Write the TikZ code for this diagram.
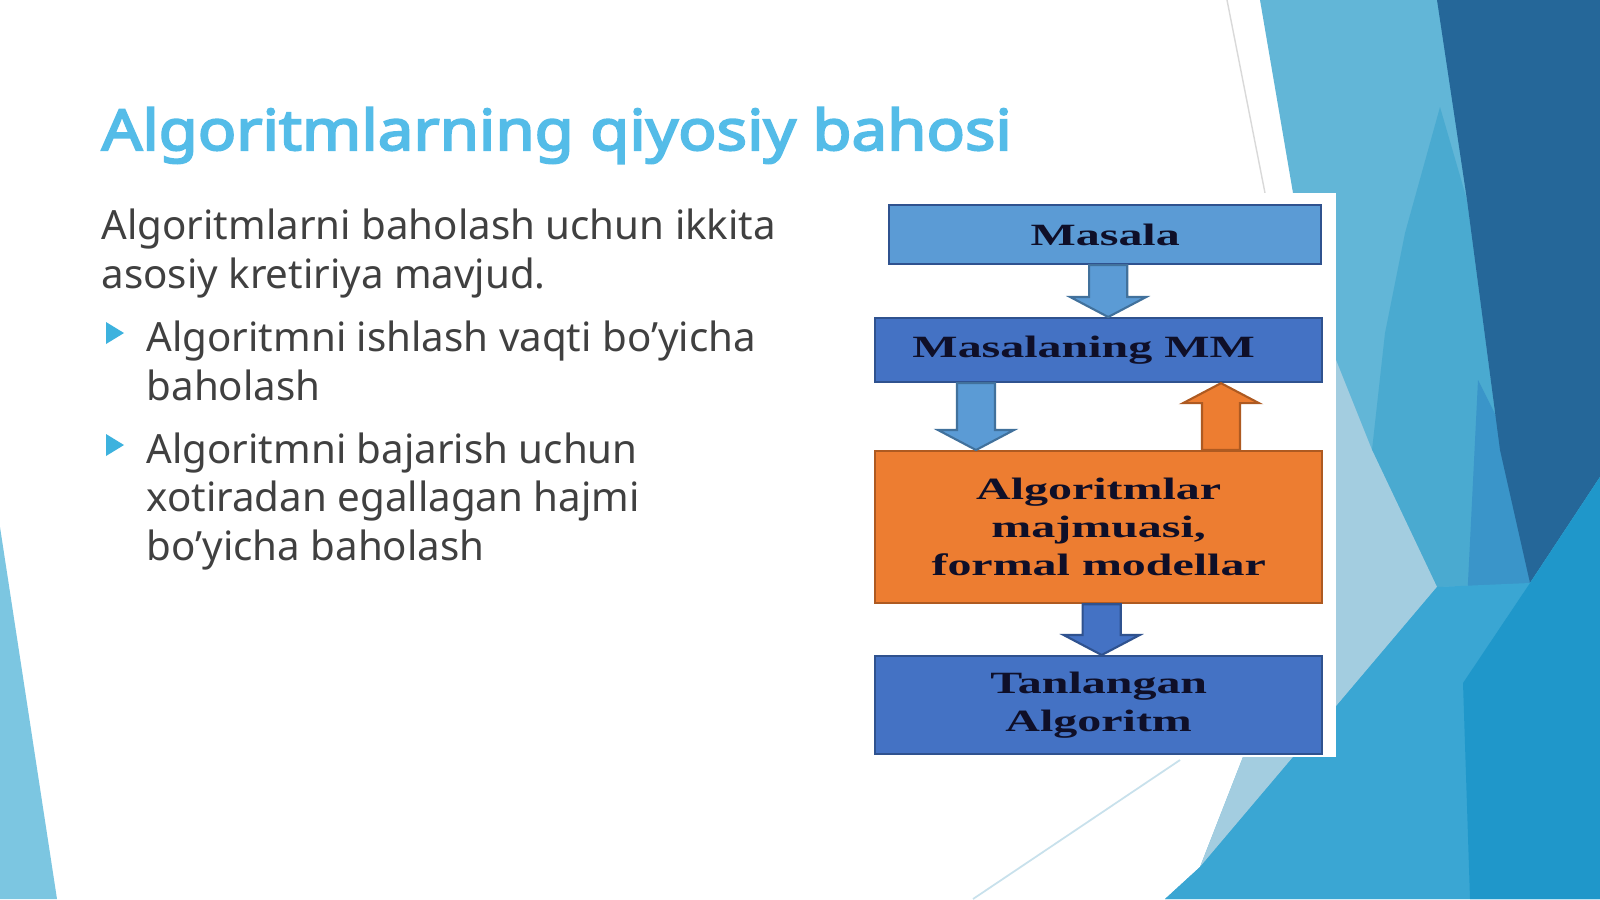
\documentclass[tikz,border=0pt]{standalone}
\usepackage{fontspec}
\setmainfont{Noto Sans}
\newfontfamily\titlefont[FakeBold=3.5, FakeStretch=1.13]{Noto Sans}
\newfontfamily\boxfont[FakeStretch=1.55]{Liberation Serif}
\usetikzlibrary{calc,positioning}
\definecolor{titleblue}{RGB}{84,188,232}
\definecolor{bodygray}{RGB}{64,64,64}
\definecolor{bulletblue}{RGB}{61,178,222}
\definecolor{boxtext}{RGB}{15,15,40}
\definecolor{lightfill}{RGB}{91,155,213}
\definecolor{lightedge}{RGB}{65,113,156}
\definecolor{darkfill}{RGB}{68,114,196}
\definecolor{darkedge}{RGB}{47,82,143}
\definecolor{orangefill}{RGB}{237,125,49}
\definecolor{orangeedge}{RGB}{174,90,33}
\definecolor{bglight}{RGB}{98,182,215}
\definecolor{bgmedium}{RGB}{74,170,208}
\definecolor{bgdark}{RGB}{37,103,153}
\definecolor{bgstreak}{RGB}{58,149,201}
\definecolor{bgpale}{RGB}{163,205,224}
\definecolor{bgbottom}{RGB}{58,166,211}
\definecolor{bgdeep}{RGB}{31,151,202}
\definecolor{bgleft}{RGB}{124,198,225}

% freccia a blocco verticale: stile, partenza, punta
\newcommand{\blockarrow}[3]{%
  \draw[#1] let \p1=(#2), \p2=(#3), \n1={sign(\y2-\y1)} in
    (\x1-0.19cm,\y1) -- (\x1-0.19cm,{\y2-(\n1)*0.2cm}) -- (\x1-0.38cm,{\y2-(\n1)*0.2cm})
    -- (\x1,\y2) -- (\x1+0.38cm,{\y2-(\n1)*0.2cm}) -- (\x1+0.19cm,{\y2-(\n1)*0.2cm})
    -- (\x1+0.19cm,\y1) -- cycle;}

\begin{document}
\begin{tikzpicture}[x=0.01cm, y=-0.01cm,
  boxbase/.style={draw, line width=0.6pt, inner sep=0pt, anchor=north west, align=center,
    text=boxtext, font=\boxfont\bfseries\fontsize{8.8}{10.8}\selectfont},
  boxlight/.style={boxbase, fill=lightfill, draw=darkedge},
  boxdark/.style={boxbase, fill=darkfill, draw=darkedge},
  boxorange/.style={boxbase, fill=orangefill, draw=orangeedge},
  arrowlight/.style={fill=lightfill, draw=lightedge, line width=0.6pt},
  arrowdark/.style={fill=darkfill, draw=darkedge, line width=0.6pt},
  arroworange/.style={fill=orangefill, draw=orangeedge, line width=0.6pt},
  bodytext/.style={anchor=base west, align=left, text=bodygray, inner sep=0pt,
    font=\fontsize{11.45}{13.66}\selectfont}]
\useasboundingbox (0,0) rectangle (1600,899);
\fill[white] (0,0) rectangle (1600,899);

% Sfondo a destra
\fill[bglight] (1260,0) -- (1600,0) -- (1600,899) -- (1165,899) -- (1200,867) -- (1243,757)
  -- (1336,560) -- (1336,193) -- (1293,193) -- cycle;
\fill[bgmedium] (1440,107) -- (1467,200) -- (1500,450) -- (1530,583) -- (1437,587)
  -- (1372,450) -- (1385,333) -- (1405,233) -- cycle;
\fill[bgstreak] (1478,380) -- (1503,430) -- (1530,583) -- (1463,683) -- cycle;
\fill[bgdark] (1437,0) -- (1600,0) -- (1600,477) -- (1530,583) -- (1500,450) -- (1467,200) -- cycle;
\fill[bgpale] (1336,360) -- (1372,450) -- (1437,587) -- (1200,867) -- (1243,757) -- (1300,560) -- cycle;
\fill[bgbottom] (1165,899) -- (1200,867) -- (1437,587) -- (1530,583) -- (1600,477) -- (1600,899) -- cycle;
\fill[bgdeep] (1470,899) -- (1463,683) -- (1530,583) -- (1600,477) -- (1600,899) -- cycle;
\draw[gray!30, line width=0.4pt] (1227,0) -- (1265,193);
\draw[bgpale!60, line width=0.5pt] (1180,760) -- (973,899);

% Triangolo in basso a sinistra
\fill[bgleft] (0,527) -- (57,899) -- (0,899) -- cycle;

% Titolo e testo
\node[anchor=base west, inner sep=0pt, text=titleblue, font=\titlefont\fontsize{16}{19}\selectfont]
  (title) at (101,150) {Algoritmlarning qiyosiy bahosi};
\node[bodytext] (intro) at (101,288) {Algoritmlarni baholash uchun ikkita\\asosiy kretiriya mavjud.};
\node[bodytext] (itemtime) at (146,400) {Algoritmni ishlash vaqti bo’yicha\\baholash};
\node[bodytext] (itemmem) at (146,560) {Algoritmni bajarish uchun\\xotiradan egallagan hajmi\\bo’yicha baholash};
\foreach \y in {352,464}{
  \fill[bulletblue] (106,\y-30) -- ++(0,22) -- ++(18,-11) -- cycle;
}

% Pannello bianco dello schema
\fill[white] (862,193) rectangle (1336,757);

% Blocchi
\node[boxlight, minimum width=4.32cm, minimum height=0.59cm] (masala) at (888,204) {Masala};
\node[boxdark, minimum width=4.47cm, minimum height=0.64cm] (model) at (874,317)
  {Masalaning MM\hspace{0.3cm}};
\node[boxorange, minimum width=4.47cm, minimum height=1.52cm] (algos) at (874,450)
  {Algoritmlar\\majmuasi,\\formal modellar};
\node[boxdark, minimum width=4.47cm, minimum height=0.98cm] (chosen) at (874,655) {Tanlangan\\Algoritm};

% Frecce
\blockarrow{arrowlight}{$(masala.south)+(3,0)$}{$(model.north)+(9,0)$}
\blockarrow{arrowlight}{$(model.south west)+(102,0)$}{$(algos.north west)+(102,0)$}
\blockarrow{arroworange}{$(algos.north west)+(347,0)$}{$(model.south west)+(347,0)$}
\blockarrow{arrowdark}{$(algos.south)+(3,0)$}{$(chosen.north)+(3,0)$}
\end{tikzpicture}
\end{document}
